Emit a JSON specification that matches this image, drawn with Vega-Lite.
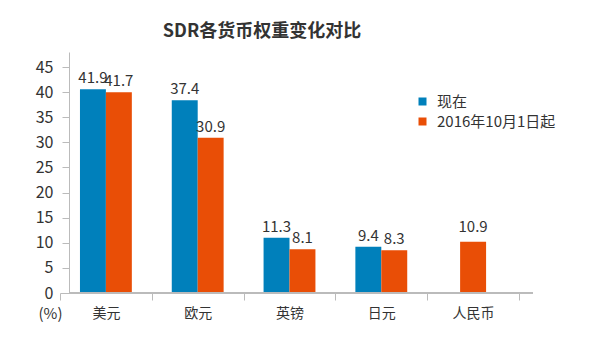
{
  "$schema": "https://vega.github.io/schema/vega-lite/v6.json",
  "autosize": "none",
  "width": 464,
  "height": 241,
  "padding": {"left": 69, "top": 52, "right": 73, "bottom": 51},
  "background": "white",
  "title": {
    "text": "SDR各货币权重变化对比",
    "font": "Noto Sans CJK SC",
    "fontSize": 18,
    "fontWeight": "bold",
    "color": "#333333",
    "anchor": "middle",
    "frame": "group",
    "dx": -39,
    "offset": 11
  },
  "config": {
    "view": {"stroke": null},
    "font": "Noto Sans CJK SC"
  },
  "data": {
    "values": [
      {"currency": "美元", "series": "现在", "v": 40.6, "label": "41.9"},
      {"currency": "美元", "series": "2016年10月1日起", "v": 40.0, "label": "41.7"},
      {"currency": "欧元", "series": "现在", "v": 38.4, "label": "37.4"},
      {"currency": "欧元", "series": "2016年10月1日起", "v": 30.9, "label": "30.9"},
      {"currency": "英镑", "series": "现在", "v": 11.0, "label": "11.3"},
      {"currency": "英镑", "series": "2016年10月1日起", "v": 8.7, "label": "8.1"},
      {"currency": "日元", "series": "现在", "v": 9.2, "label": "9.4"},
      {"currency": "日元", "series": "2016年10月1日起", "v": 8.5, "label": "8.3"},
      {"currency": "人民币", "series": "2016年10月1日起", "v": 10.2, "label": "10.9"}
    ]
  },
  "encoding": {
    "x": {
      "field": "currency",
      "type": "nominal",
      "sort": ["美元", "欧元", "英镑", "日元", "人民币"],
      "scale": {"range": [-9, 450], "paddingInner": 0, "paddingOuter": 0},
      "axis": {
        "title": null,
        "labelAngle": 0,
        "labelFontSize": 14,
        "labelColor": "#333333",
        "labelPadding": 6,
        "domainColor": "#bbbbbb",
        "tickColor": "#bbbbbb",
        "tickSize": 7,
        "tickBand": "extent",
        "labelFont": "Noto Sans CJK SC"
      }
    },
    "y": {
      "field": "v",
      "type": "quantitative",
      "scale": {"domain": [0, 48], "nice": false},
      "axis": {
        "values": [0, 5, 10, 15, 20, 25, 30, 35, 40, 45],
        "grid": false,
        "title": "(%)",
        "titleAngle": 0,
        "titleX": -19,
        "titleY": 261,
        "titleAlign": "center",
        "titleBaseline": "middle",
        "titleFontSize": 15,
        "titleFontWeight": "normal",
        "titleColor": "#333333",
        "labelFontSize": 16,
        "labelColor": "#333333",
        "labelPadding": 9,
        "domainColor": "#bbbbbb",
        "tickColor": "#bbbbbb",
        "tickSize": 7
      }
    },
    "color": {
      "field": "series",
      "type": "nominal",
      "scale": {"domain": ["现在", "2016年10月1日起"], "range": ["#0080bb", "#e94e06"]},
      "legend": {
        "title": null,
        "orient": "none",
        "legendX": 346,
        "legendY": 42,
        "symbolType": "square",
        "symbolSize": 64,
        "symbolStrokeWidth": 0,
        "labelFontSize": 15,
        "labelColor": "#333333",
        "rowPadding": 4,
        "labelOffset": 7
      }
    }
  },
  "layer": [
    {
      "transform": [{"filter": "datum.currency != '人民币'"}],
      "mark": {"type": "bar"},
      "encoding": {
        "xOffset": {
          "field": "series",
          "type": "nominal",
          "sort": ["现在", "2016年10月1日起"],
          "scale": {"paddingInner": 0, "paddingOuter": 0.77}
        }
      }
    },
    {
      "transform": [{"filter": "datum.currency != '人民币'"}],
      "mark": {"type": "text", "dy": -3, "baseline": "bottom", "fontSize": 15},
      "encoding": {
        "xOffset": {
          "field": "series",
          "type": "nominal",
          "sort": ["现在", "2016年10月1日起"]
        },
        "text": {"field": "label"},
        "color": {"value": "#333333"}
      }
    },
    {
      "transform": [{"filter": "datum.currency == '人民币'"}],
      "mark": {"type": "bar", "width": {"band": 0.283}}
    },
    {
      "transform": [{"filter": "datum.currency == '人民币'"}],
      "mark": {"type": "text", "dy": -7, "baseline": "bottom", "fontSize": 15},
      "encoding": {
        "text": {"field": "label"},
        "color": {"value": "#333333"}
      }
    },
    {
      "mark": {"type": "rule", "color": "#bbbbbb"},
      "encoding": {"y": {"datum": 0}, "x": null, "color": null}
    }
  ]
}
